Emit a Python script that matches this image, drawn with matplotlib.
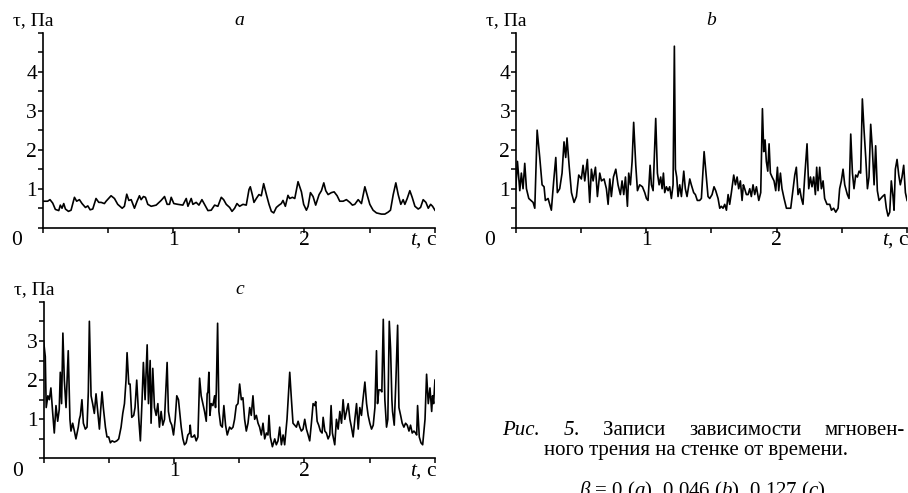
import matplotlib
matplotlib.use("Agg")
import matplotlib.pyplot as plt
from matplotlib.ticker import MultipleLocator, FixedLocator
from matplotlib.transforms import offset_copy

plt.rcParams['font.family'] = ['Liberation Serif', 'DejaVu Serif']
plt.rcParams['mathtext.fontset'] = 'custom'
plt.rcParams['mathtext.rm'] = 'Liberation Serif'
plt.rcParams['mathtext.it'] = 'Liberation Serif:italic'

# panel a, beta = 0
t_a = [0.000, 0.038, 0.056, 0.077, 0.097, 0.123, 0.135, 0.148, 0.161, 0.174, 0.197, 0.217, 0.243, 0.260, 0.281,
       0.301, 0.327, 0.345, 0.363, 0.383, 0.408, 0.429, 0.447, 0.472, 0.485, 0.523, 0.549, 0.574, 0.608, 0.625,
       0.643, 0.659, 0.677, 0.702, 0.722, 0.740, 0.753, 0.771, 0.786, 0.804, 0.830, 0.868, 0.906, 0.932, 0.952,
       0.970, 0.983, 1.003, 1.034, 1.072, 1.098, 1.111, 1.136, 1.149, 1.174, 1.195, 1.218, 1.238, 1.264, 1.289,
       1.315, 1.340, 1.366, 1.384, 1.404, 1.430, 1.448, 1.468, 1.486, 1.506, 1.532, 1.557, 1.578, 1.588, 1.603,
       1.616, 1.634, 1.654, 1.672, 1.690, 1.711, 1.731, 1.749, 1.767, 1.787, 1.808, 1.825, 1.838, 1.856, 1.876,
       1.889, 1.910, 1.928, 1.953, 1.979, 1.996, 2.017, 2.030, 2.048, 2.068, 2.088, 2.114, 2.132, 2.150, 2.165,
       2.183, 2.208, 2.229, 2.252, 2.272, 2.298, 2.323, 2.349, 2.369, 2.387, 2.413, 2.438, 2.464, 2.481, 2.502,
       2.527, 2.553, 2.591, 2.617, 2.642, 2.660, 2.681, 2.701, 2.719, 2.739, 2.757, 2.770, 2.788, 2.808, 2.826,
       2.847, 2.872, 2.890, 2.910, 2.931, 2.949, 2.967, 2.982, 3.000]
tau_a = [0.68, 0.68, 0.72, 0.63, 0.47, 0.44, 0.58, 0.50, 0.62, 0.48, 0.42, 0.45, 0.78, 0.68, 0.72,
         0.62, 0.52, 0.56, 0.46, 0.48, 0.75, 0.65, 0.65, 0.62, 0.68, 0.82, 0.75, 0.60, 0.50, 0.55,
         0.86, 0.70, 0.72, 0.50, 0.68, 0.82, 0.72, 0.80, 0.78, 0.60, 0.55, 0.58, 0.70, 0.80, 0.60,
         0.60, 0.78, 0.62, 0.60, 0.58, 0.75, 0.55, 0.75, 0.60, 0.65, 0.58, 0.72, 0.60, 0.44, 0.45,
         0.58, 0.55, 0.78, 0.72, 0.60, 0.52, 0.42, 0.50, 0.62, 0.55, 0.60, 0.58, 0.98, 1.05, 0.85,
         0.65, 0.75, 0.85, 0.82, 1.13, 0.85, 0.60, 0.42, 0.38, 0.52, 0.58, 0.62, 0.70, 0.55, 0.83,
         0.75, 0.78, 0.75, 1.18, 0.92, 0.60, 0.45, 0.55, 0.90, 0.80, 0.58, 0.85, 0.95, 1.15, 0.95,
         0.85, 0.90, 0.92, 0.82, 0.68, 0.68, 0.72, 0.65, 0.58, 0.60, 0.72, 0.62, 1.05, 0.85, 0.60,
         0.45, 0.38, 0.35, 0.35, 0.40, 0.45, 0.85, 1.15, 0.85, 0.60, 0.72, 0.60, 0.75, 0.95, 0.78,
         0.55, 0.48, 0.52, 0.72, 0.65, 0.50, 0.60, 0.55, 0.45]

# panel b, beta = 0.046
t_b = [0.000, 0.013, 0.031, 0.043, 0.056, 0.069, 0.082, 0.100, 0.133, 0.146, 0.164, 0.184, 0.202, 0.217, 0.227,
       0.248, 0.273, 0.291, 0.307, 0.319, 0.337, 0.355, 0.370, 0.383, 0.393, 0.409, 0.427, 0.447, 0.465, 0.483,
       0.503, 0.516, 0.529, 0.549, 0.567, 0.580, 0.593, 0.611, 0.626, 0.644, 0.657, 0.677, 0.695, 0.708, 0.721,
       0.733, 0.749, 0.767, 0.784, 0.802, 0.815, 0.828, 0.841, 0.856, 0.866, 0.879, 0.892, 0.904, 0.920, 0.933,
       0.950, 0.971, 0.989, 1.002, 1.014, 1.030, 1.040, 1.053, 1.073, 1.086, 1.099, 1.111, 1.122, 1.132, 1.142,
       1.155, 1.168, 1.180, 1.193, 1.206, 1.216, 1.224, 1.234, 1.244, 1.257, 1.270, 1.288, 1.300, 1.313, 1.334,
       1.346, 1.364, 1.377, 1.392, 1.410, 1.423, 1.444, 1.461, 1.474, 1.487, 1.505, 1.520, 1.533, 1.551, 1.564,
       1.576, 1.589, 1.602, 1.615, 1.628, 1.640, 1.653, 1.671, 1.684, 1.697, 1.709, 1.722, 1.735, 1.745, 1.755,
       1.768, 1.781, 1.794, 1.806, 1.819, 1.832, 1.845, 1.863, 1.878, 1.891, 1.901, 1.911, 1.921, 1.932, 1.942,
       1.952, 1.965, 1.980, 1.993, 2.006, 2.016, 2.029, 2.041, 2.057, 2.075, 2.093, 2.108, 2.126, 2.139, 2.151,
       2.164, 2.177, 2.190, 2.202, 2.215, 2.233, 2.246, 2.259, 2.271, 2.284, 2.297, 2.307, 2.317, 2.330, 2.343,
       2.356, 2.368, 2.386, 2.407, 2.420, 2.437, 2.453, 2.471, 2.483, 2.496, 2.509, 2.522, 2.542, 2.555, 2.568,
       2.581, 2.593, 2.606, 2.619, 2.632, 2.644, 2.657, 2.670, 2.683, 2.696, 2.708, 2.721, 2.734, 2.747, 2.759,
       2.772, 2.785, 2.798, 2.811, 2.828, 2.841, 2.854, 2.867, 2.879, 2.892, 2.900, 2.910, 2.923, 2.936, 2.948,
       2.961, 2.974, 2.987, 3.000]
tau_b = [1.00, 1.70, 0.95, 1.40, 1.00, 1.65, 1.00, 0.75, 0.65, 0.50, 2.50, 1.80, 1.10, 1.05, 0.70,
         0.75, 0.45, 1.20, 1.80, 0.90, 1.00, 1.40, 2.20, 1.80, 2.30, 1.60, 0.90, 0.65, 0.80, 1.35,
         1.25, 1.60, 1.20, 1.75, 0.65, 1.50, 1.20, 1.55, 0.80, 1.40, 1.20, 1.25, 1.00, 0.60, 1.25,
         0.80, 1.30, 1.50, 1.10, 0.85, 1.20, 0.85, 1.30, 0.55, 1.40, 1.10, 1.70, 2.70, 1.60, 0.95,
         1.10, 1.05, 0.90, 0.75, 0.70, 1.60, 1.10, 0.95, 2.80, 1.40, 1.10, 1.30, 1.00, 1.40, 0.90,
         1.05, 0.95, 1.05, 0.75, 1.10, 4.65, 1.50, 1.30, 0.80, 1.10, 0.80, 1.45, 1.00, 0.80, 1.25,
         1.10, 0.90, 0.85, 0.70, 0.70, 0.75, 1.95, 1.30, 0.80, 0.75, 0.85, 1.05, 0.95, 0.75, 0.50,
         0.55, 0.50, 0.60, 0.45, 0.85, 0.60, 0.90, 1.35, 1.10, 1.30, 1.00, 1.20, 0.70, 1.10, 1.00,
         0.85, 0.85, 1.00, 0.80, 1.10, 0.85, 1.05, 0.70, 0.90, 3.05, 1.95, 2.25, 1.70, 1.45, 2.15,
         1.40, 1.30, 1.20, 0.95, 1.55, 0.95, 1.40, 1.00, 0.75, 0.50, 0.50, 0.50, 1.00, 1.35, 1.55,
         0.85, 1.00, 0.75, 0.60, 1.30, 2.15, 1.00, 1.30, 1.05, 1.30, 0.85, 1.55, 0.95, 1.55, 1.00,
         1.20, 0.75, 0.60, 0.60, 0.45, 0.50, 0.40, 0.50, 1.00, 1.20, 1.50, 1.10, 0.85, 0.75, 2.40,
         1.40, 1.00, 1.35, 1.30, 1.45, 1.40, 3.30, 2.50, 1.80, 1.00, 1.30, 2.65, 2.00, 1.10, 2.10,
         0.95, 0.70, 0.75, 0.80, 0.85, 0.50, 0.30, 0.40, 1.20, 0.80, 0.45, 1.50, 1.75, 1.35, 1.10,
         1.30, 1.60, 0.90, 0.70]

# panel c, beta = 0.127
t_c = [0.000, 0.013, 0.020, 0.033, 0.044, 0.056, 0.069, 0.082, 0.095, 0.108, 0.120, 0.128, 0.138, 0.148, 0.159,
       0.172, 0.189, 0.202, 0.210, 0.223, 0.236, 0.248, 0.266, 0.274, 0.282, 0.294, 0.305, 0.320, 0.333, 0.343,
       0.351, 0.364, 0.376, 0.389, 0.402, 0.415, 0.428, 0.438, 0.448, 0.458, 0.474, 0.486, 0.499, 0.512, 0.525,
       0.543, 0.561, 0.576, 0.594, 0.607, 0.620, 0.632, 0.640, 0.653, 0.663, 0.676, 0.691, 0.701, 0.714, 0.730,
       0.742, 0.755, 0.765, 0.778, 0.794, 0.804, 0.817, 0.824, 0.837, 0.850, 0.863, 0.876, 0.888, 0.901, 0.914,
       0.927, 0.947, 0.957, 0.970, 0.983, 0.996, 1.009, 1.021, 1.034, 1.055, 1.068, 1.080, 1.093, 1.106, 1.119,
       1.124, 1.132, 1.144, 1.157, 1.170, 1.183, 1.196, 1.208, 1.221, 1.234, 1.247, 1.254, 1.260, 1.267, 1.275,
       1.285, 1.298, 1.311, 1.318, 1.324, 1.334, 1.344, 1.357, 1.370, 1.382, 1.395, 1.408, 1.426, 1.439, 1.452,
       1.464, 1.477, 1.490, 1.503, 1.516, 1.528, 1.541, 1.554, 1.567, 1.580, 1.592, 1.605, 1.618, 1.631, 1.644,
       1.656, 1.669, 1.682, 1.695, 1.708, 1.720, 1.728, 1.738, 1.754, 1.772, 1.784, 1.797, 1.810, 1.823, 1.836,
       1.848, 1.866, 1.887, 1.900, 1.912, 1.925, 1.938, 1.951, 1.964, 1.976, 1.989, 2.002, 2.015, 2.028, 2.040,
       2.053, 2.066, 2.079, 2.086, 2.097, 2.109, 2.122, 2.135, 2.143, 2.156, 2.168, 2.181, 2.194, 2.204, 2.214,
       2.232, 2.245, 2.258, 2.271, 2.284, 2.296, 2.309, 2.322, 2.335, 2.348, 2.360, 2.373, 2.386, 2.399, 2.412,
       2.424, 2.437, 2.445, 2.463, 2.476, 2.488, 2.501, 2.514, 2.527, 2.540, 2.552, 2.560, 2.570, 2.583, 2.593,
       2.604, 2.616, 2.629, 2.639, 2.650, 2.660, 2.670, 2.675, 2.688, 2.701, 2.714, 2.724, 2.737, 2.749, 2.762,
       2.775, 2.788, 2.801, 2.813, 2.826, 2.839, 2.852, 2.860, 2.867, 2.880, 2.893, 2.906, 2.924, 2.936, 2.949,
       2.962, 2.975, 2.982, 2.990, 3.000]
tau_c = [3.00, 2.60, 1.30, 1.60, 1.50, 1.80, 1.20, 0.65, 1.35, 0.95, 1.25, 2.20, 1.40, 3.20, 2.00,
         1.30, 2.75, 1.00, 0.70, 0.90, 0.70, 0.50, 0.80, 1.00, 1.10, 1.50, 0.90, 0.75, 0.80, 1.70,
         3.50, 1.60, 1.40, 1.15, 1.65, 1.20, 0.75, 1.25, 1.70, 1.30, 0.80, 0.55, 0.55, 0.40, 0.45,
         0.42, 0.45, 0.50, 0.80, 1.15, 1.40, 2.00, 2.70, 1.90, 1.90, 1.05, 1.10, 1.30, 2.00, 1.00,
         0.45, 1.50, 2.45, 1.50, 2.90, 1.40, 2.50, 0.90, 2.30, 1.30, 1.10, 1.40, 0.80, 1.20, 0.85,
         1.00, 2.45, 1.20, 0.95, 0.85, 0.60, 1.00, 1.60, 1.50, 0.80, 0.50, 0.35, 0.40, 0.60, 0.65,
         0.85, 0.55, 0.55, 0.60, 0.45, 0.55, 2.05, 1.60, 1.40, 1.20, 0.95, 1.65, 1.70, 2.20, 1.10,
         1.40, 1.35, 1.60, 1.30, 1.70, 3.45, 1.20, 0.85, 0.80, 1.35, 0.85, 0.60, 0.80, 0.75, 0.80,
         1.00, 1.35, 1.40, 1.90, 1.50, 1.55, 1.00, 0.70, 0.90, 1.30, 1.10, 1.60, 1.00, 1.10, 0.90,
         0.80, 0.60, 0.90, 0.50, 0.65, 0.60, 1.10, 0.55, 0.30, 0.50, 0.35, 0.45, 0.80, 0.35, 0.60,
         0.35, 1.00, 2.20, 1.50, 0.90, 0.85, 0.80, 0.95, 0.80, 0.70, 0.75, 1.00, 0.75, 0.60, 0.45,
         0.90, 1.40, 1.35, 1.45, 0.95, 0.85, 0.70, 0.65, 1.05, 0.70, 0.65, 0.50, 0.60, 1.35, 0.65,
         0.35, 1.00, 0.75, 1.20, 0.90, 1.50, 1.00, 1.20, 1.40, 1.00, 0.80, 0.55, 1.00, 1.40, 0.75,
         1.30, 1.10, 1.40, 1.95, 1.40, 1.10, 0.90, 0.75, 0.85, 1.30, 2.75, 1.40, 1.75, 1.75, 1.70,
         3.55, 1.50, 0.80, 1.00, 3.50, 2.80, 1.50, 1.20, 0.85, 2.00, 3.40, 1.30, 1.10, 0.90, 0.80,
         0.90, 0.85, 0.70, 0.85, 0.65, 0.70, 0.65, 0.60, 1.35, 0.55, 0.40, 0.35, 1.00, 2.15, 1.40,
         1.80, 1.20, 1.60, 1.40, 2.00]

fig = plt.figure(figsize=(9.08, 4.93), dpi=100)
ax_a = fig.add_axes([0.047, 0.538, 0.432, 0.396])
ax_b = fig.add_axes([0.568, 0.538, 0.431, 0.396])
ax_c = fig.add_axes([0.048, 0.070, 0.431, 0.318])


def panel(ax, t, tau, ymax, letter):
    ax.plot(t, tau, color='black', lw=1.2)
    ax.set_xlim(0, 3)
    ax.set_ylim(0, ymax)
    ax.spines[['top', 'right']].set_visible(False)
    ax.spines[['left', 'bottom']].set_linewidth(1.2)
    ax.xaxis.set_major_locator(MultipleLocator(0.5))
    ax.yaxis.set_major_locator(FixedLocator(range(1, ymax)))
    ax.yaxis.set_minor_locator(MultipleLocator(0.5))
    ax.tick_params(which='both', direction='out', length=3.5, width=1.1)
    ax.tick_params(axis='y', labelsize=15.5, pad=0.5)
    ax.tick_params(axis='x', labelbottom=False)

    below = offset_copy(ax.get_xaxis_transform(), fig=fig, y=-13, units='dots')
    for x, s in ((-0.2, '0'), (1, '1'), (2, '2')):
        ax.text(x, 0, s, transform=below, ha='center', va='center', fontsize=15.5, clip_on=False)
    ax.text(3.02, 0, '$t$, с', transform=below, ha='right', va='center', fontsize=15.5, clip_on=False)

    above = offset_copy(ax.transAxes, fig=fig, x=-9, y=12, units='dots')
    ax.text(0, 1, 'τ, Па', transform=above, ha='center', va='center', fontsize=14)
    top = offset_copy(ax.transAxes, fig=fig, y=12, units='dots')
    ax.text(0.5, 1, letter, transform=top, ha='center', va='center', fontsize=14, style='italic')


panel(ax_a, t_a, tau_a, 5, 'a')
panel(ax_b, t_b, tau_b, 5, 'b')
panel(ax_c, t_c, tau_c, 4, 'c')

# caption, first line justified
renderer = fig.canvas.get_renderer()
line1 = [[('Рис.', 'italic')], [('5', 'italic'), ('.', 'normal')], [('Записи', 'normal')],
         [('зависимости', 'normal')], [('мгновен-', 'normal')]]
items, total = [], 0
for word in line1:
    parts = [fig.text(0, 0.118, s, fontsize=15, style=st, va='baseline') for s, st in word]
    w = [p.get_window_extent(renderer).width / fig.bbox.width for p in parts]
    items.append((parts, w))
    total += sum(w)
x0, x1 = 0.553, 0.997
gap = (x1 - x0 - total) / (len(line1) - 1)
x = x0
for parts, w in items:
    for p, wi in zip(parts, w):
        p.set_x(x)
        x += wi
    x += gap

fig.text(0.766, 0.077, 'ного трения на стенке от времени.', ha='center', va='baseline', fontsize=15)
fig.text(0.773, -0.006, r'$\mathit{\beta}$ = 0 ($a$), 0.046 ($b$), 0.127 ($c$)',
         ha='center', va='baseline', fontsize=15)

fig.savefig('out.png', dpi=100)
